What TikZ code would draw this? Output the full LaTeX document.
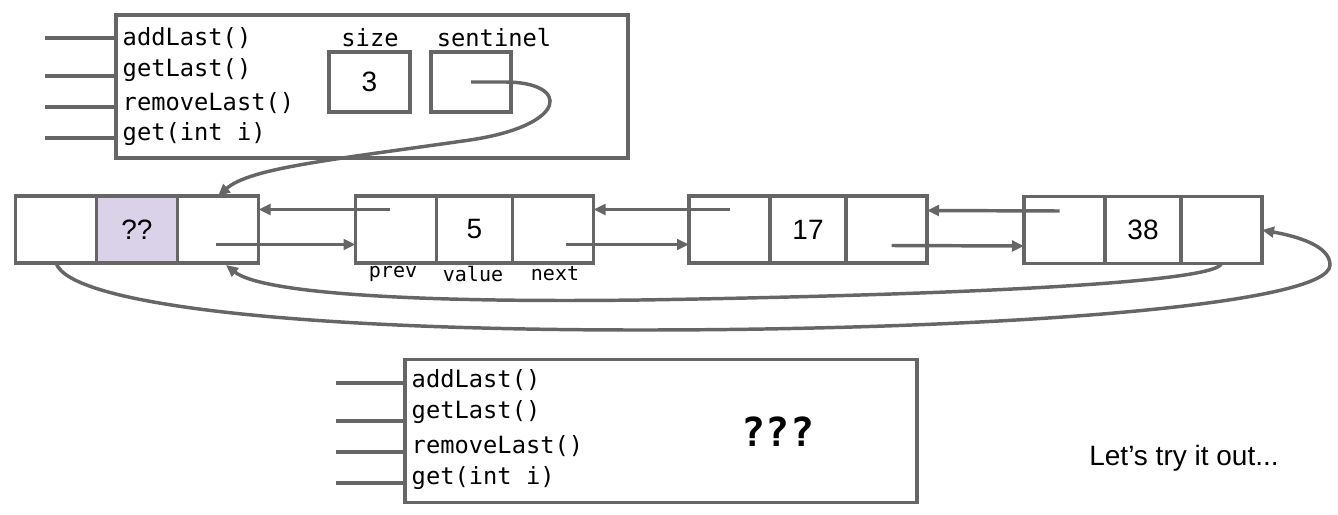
\documentclass[tikz,border=0pt]{standalone}
\usepackage{fontspec}
\setmainfont{Liberation Sans}
\setsansfont{Liberation Sans}
\setmonofont{DejaVu Sans Mono}
\usetikzlibrary{arrows.meta, positioning}
\definecolor{linegray}{HTML}{666666}
\definecolor{lilac}{HTML}{D9D2E9}

\begin{document}
\begin{tikzpicture}[x=0.75pt, y=-0.75pt, line width=2.6pt,
  cell/.style={draw=linegray, rectangle, outer sep=0pt, inner sep=0pt,
    minimum width=60.75pt, minimum height=50.25pt, font=\fontsize{21}{25}\selectfont},
  valcell/.style={cell, minimum width=57pt},
  objbox/.style={draw=linegray, rectangle, outer sep=0pt, minimum width=384pt, minimum height=107pt},
  method/.style={anchor=west, inner sep=0pt, font=\ttfamily\fontsize{17.8}{21}\selectfont},
  field/.style={font=\ttfamily\fontsize{17.8}{21}\selectfont},
  tag/.style={font=\ttfamily\fontsize{15}{18}\selectfont},
  pin/.style={draw=linegray},
  ptr/.style={draw=linegray, -{Triangle[length=9pt, width=8pt]}}]
  \useasboundingbox (0,0) rectangle (1338,514);

  % the deque object
  \node[objbox] (deque) at (372,86.5) {};
  \node[method] (addtop) at (121,38) {addLast()};
  \node[method] (gettop) at (121,70) {getLast()};
  \node[method] (remtop) at (121,103) {removeLast()};
  \node[method] (idxtop) at (121,134) {get(int i)};
  \coordinate (pina) at (45,38);
  \coordinate (pinb) at (45,76);
  \coordinate (pinc) at (45,107);
  \coordinate (pind) at (45,138);
  \draw[pin] (pina) -- (pina -| deque.west);
  \draw[pin] (pinb) -- (pinb -| deque.west);
  \draw[pin] (pinc) -- (pinc -| deque.west);
  \draw[pin] (pind) -- (pind -| deque.west);
  \node[field] (sizelbl) at (370,38) {size};
  \node[cell, minimum height=45pt, line width=3.2pt] (size) at (369.5,82) {3};
  \node[field] (sentlbl) at (494,38) {sentinel};
  \node[cell, minimum width=60pt, minimum height=45pt] (sentinel) at (471,82) {};

  % the nodes
  \node[cell] (n0p) at (56,229.5) {};
  \node[cell, fill=lilac, right=0pt of n0p] (n0v) {??};
  \node[cell, right=0pt of n0v] (n0n) {};
  \node[cell] (n1p) at (396,229.5) {};
  \node[valcell, right=0pt of n1p] (n1v) {5};
  \node[cell, right=0pt of n1v] (n1n) {};
  \node[cell] (n2p) at (729.5,229.5) {};
  \node[valcell, right=0pt of n2p] (n2v) {17};
  \node[cell, right=0pt of n2v] (n2n) {};
  \node[cell] (n3p) at (1064.5,230) {};
  \node[valcell, right=0pt of n3p] (n3v) {38};
  \node[cell, right=0pt of n3v] (n3n) {};
  \node[tag] (prevlbl) at (393,274) {prev};
  \node[tag] (vallbl) at (473,274) {value};
  \node[tag] (nextlbl) at (555,274) {next};

  % prev and next links
  \draw[ptr] ([shift={(-6,-20)}]n1p.center) -- ([shift={(0,-20)}]n0n.east);
  \draw[ptr] ([shift={(-2,15)}]n0n.center) -- ([shift={(0,15)}]n1p.west);
  \draw[ptr] ([shift={(0,-20)}]n2p.center) -- ([shift={(0,-20)}]n1n.east);
  \draw[ptr] ([shift={(13,15)}]n1n.center) -- ([shift={(0,15)}]n2p.west);
  \draw[ptr] ([shift={(-5,-19)}]n3p.center) -- ([shift={(0,-19)}]n2n.east);
  \draw[ptr] ([shift={(5,16)}]n2n.center) -- ([shift={(0,16)}]n3p.west);

  % sentinel and wrap-around links
  \draw[ptr] (sentinel.center) -- (505,82)
    .. controls (570,82) and (570,125) .. (470,140)
    .. controls (330,160) and (250,168) .. (n0n.north);
  \draw[ptr] (n3n.south) .. controls (1215,285) and (900,296) .. (640,300)
    .. controls (400,303) and (260,292) .. ([shift={(8,2)}]n0n.south);
  \draw[ptr] (n0p.south) .. controls (70,305) and (300,330) .. (640,330)
    .. controls (1000,330) and (1330,305) .. (1330,265)
    .. controls (1330,245) and (1295,236) .. (n3n.east);

  % the open question
  \node[objbox] (guess) at (661,431) {};
  \node[method] (addbot) at (410,380) {addLast()};
  \node[method] (getbot) at (410,412) {getLast()};
  \node[method] (rembot) at (410,446) {removeLast()};
  \node[method] (idxbot) at (410,478) {get(int i)};
  \coordinate (pine) at (336,383);
  \coordinate (pinf) at (336,421);
  \coordinate (ping) at (336,452);
  \coordinate (pinh) at (336,483);
  \draw[pin] (pine) -- (pine -| guess.west);
  \draw[pin] (pinf) -- (pinf -| guess.west);
  \draw[pin] (ping) -- (ping -| guess.west);
  \draw[pin] (pinh) -- (pinh -| guess.west);
  \node[font=\ttfamily\bfseries\fontsize{30}{34}\selectfont] (unknown) at (778,432) {???};
  \node[font=\fontsize{21}{25}\selectfont] (tryit) at (1184,458) {Let’s try it out...};
\end{tikzpicture}
\end{document}
